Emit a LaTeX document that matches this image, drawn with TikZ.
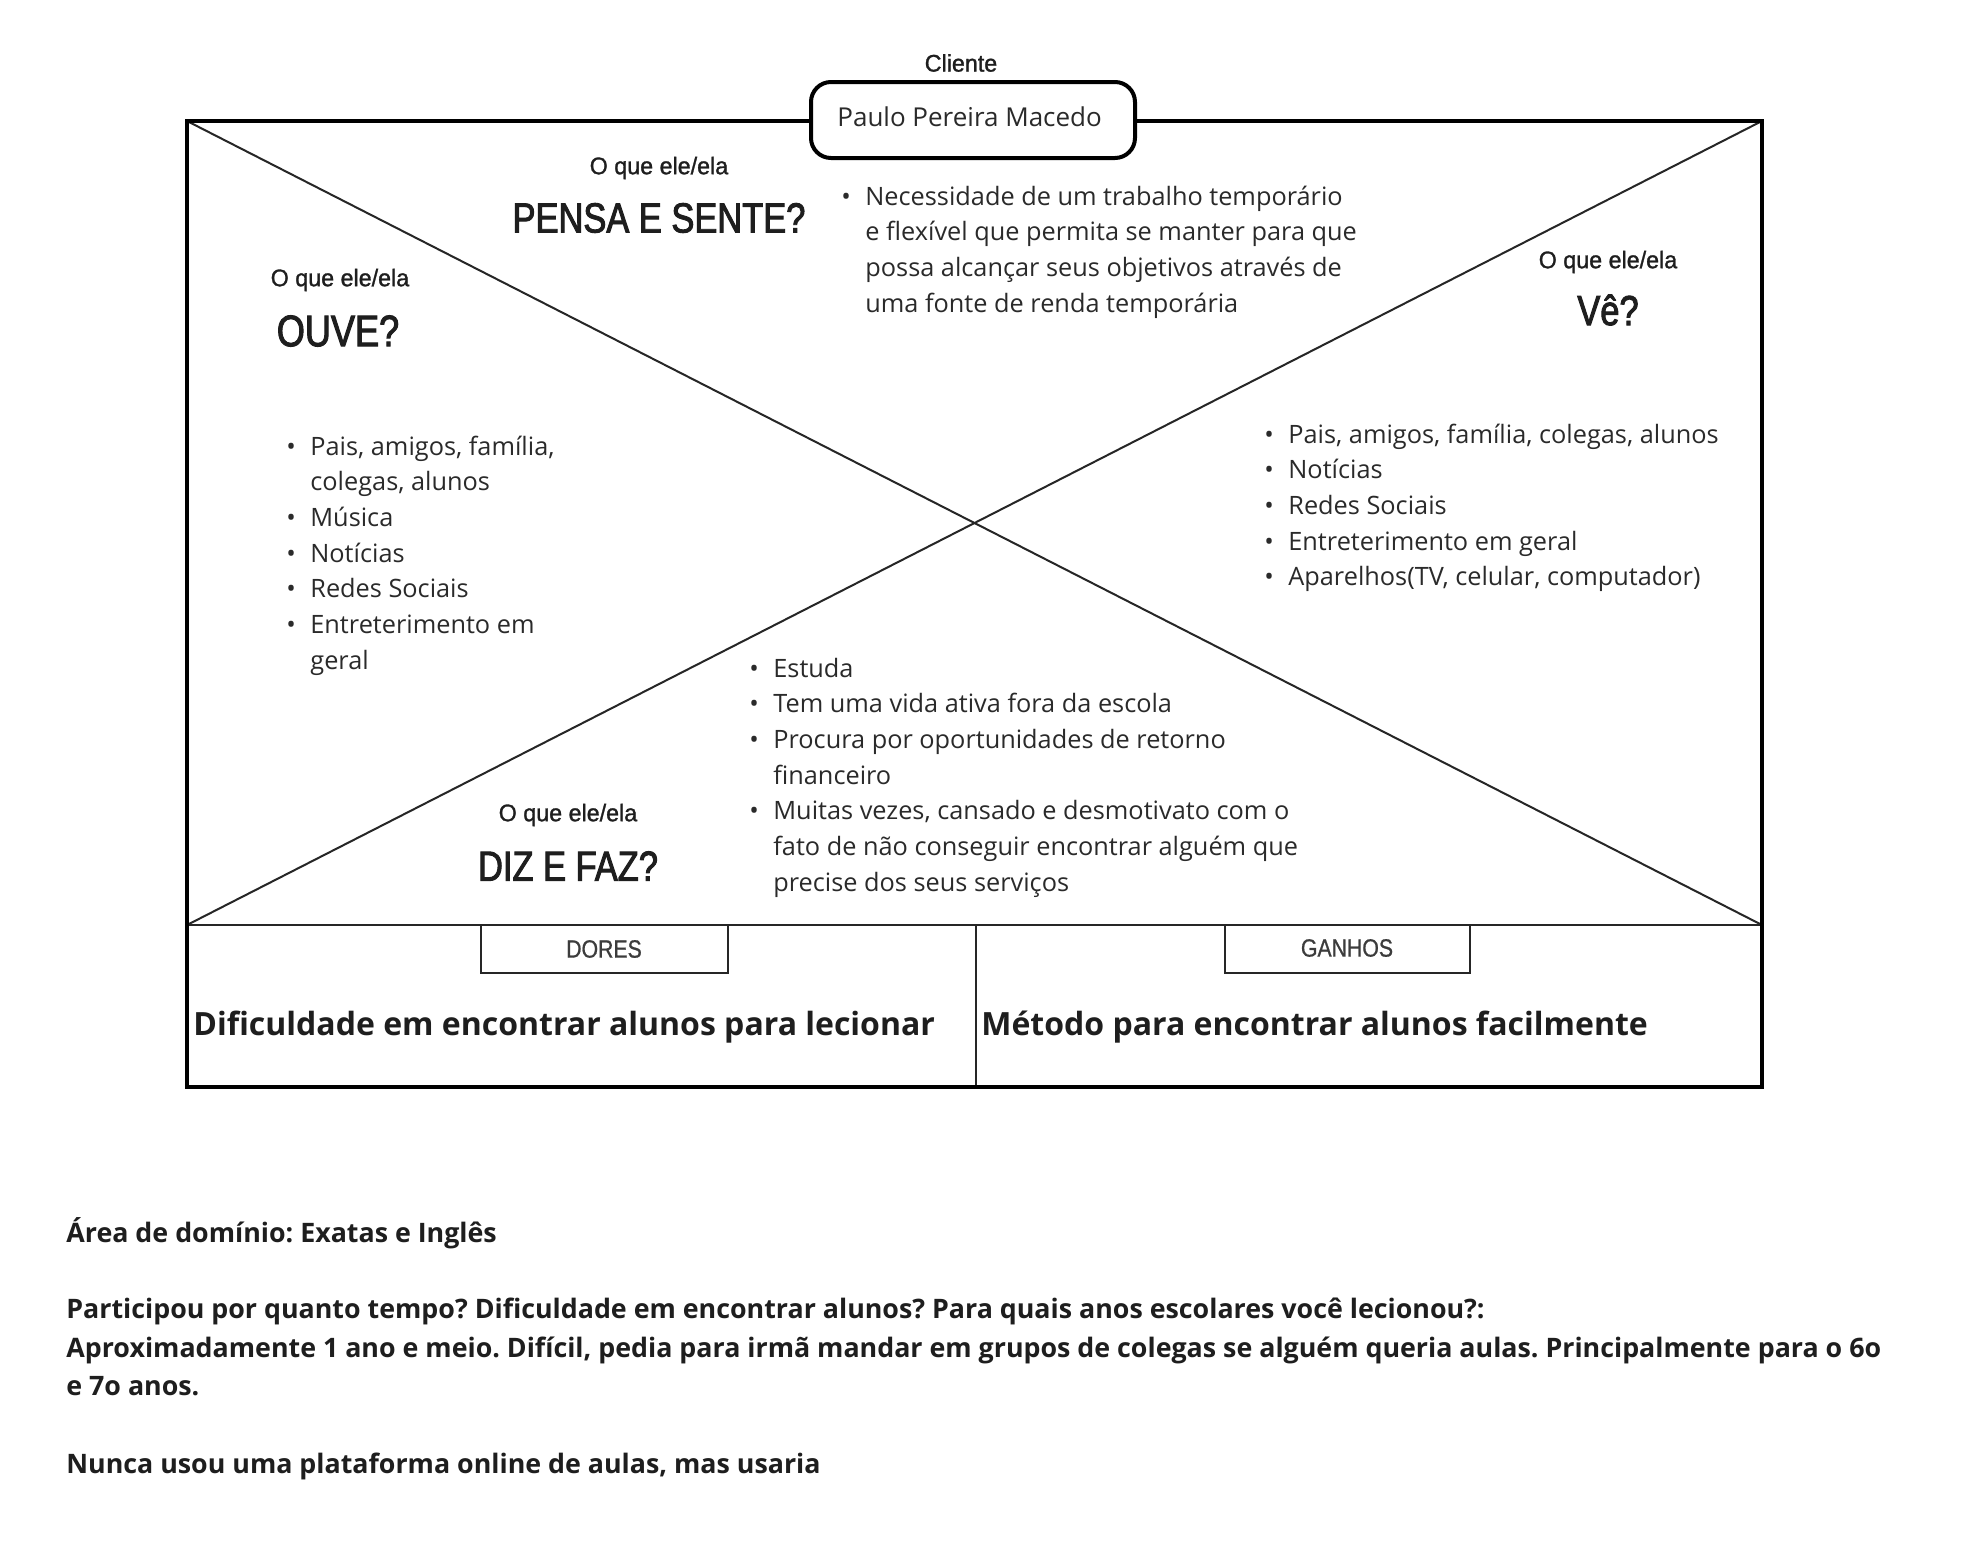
\documentclass[tikz,border=0pt]{standalone}
\usepackage{fontspec}
\setmainfont{Open Sans}
\newfontfamily\condf[FakeStretch=0.82,FakeBold=2.2]{Liberation Sans}
\newfontfamily\labf[FakeStretch=0.97,FakeBold=1.2]{Liberation Sans}
\newfontfamily\tagf[FakeStretch=0.85,FakeBold=0.8]{Liberation Sans}
\definecolor{ink}{HTML}{1E1E1E}
\definecolor{body}{HTML}{2A2A2A}
\definecolor{taggray}{HTML}{3C3C3C}
\newcommand{\bul}{\makebox[12pt][l]{•}}
\newcommand{\bodyfont}{\fontsize{12.65pt}{17.85pt}\selectfont}
\tikzset{
  frame/.style={line width=2pt, draw=black},
  diag/.style={line width=1pt, draw=black!85},
  thin/.style={line width=1pt, draw=black!85},
  smalllab/.style={font=\labf\fontsize{12pt}{14pt}\selectfont, text=ink, inner sep=0pt},
  biglab/.style={font=\condf\fontsize{21pt}{24pt}\selectfont, text=ink, inner sep=0pt},
  tagbox/.style={line width=1pt, draw=black!85},
  taglab/.style={font=\tagf\fontsize{12.5pt}{14pt}\selectfont, text=taggray, inner sep=0pt},
  list/.style={anchor=base west, inner sep=0pt, text=body, font=\bodyfont},
  bottomtxt/.style={anchor=base west, inner sep=0pt, text=ink, font=\bfseries\fontsize{16pt}{19pt}\selectfont},
  foot/.style={anchor=base west, inner sep=0pt, text=ink, font=\bfseries\fontsize{13.4pt}{19pt}\selectfont},
}
\begin{document}
\frenchspacing
\begin{tikzpicture}[x=0.5pt,y=-0.5pt]
\useasboundingbox[fill=white] (0,0) rectangle (1983,1543);

% corners
\coordinate (TL) at (187,121);
\coordinate (TR) at (1762,121);
\coordinate (ML) at (187,925);
\coordinate (MR) at (1762,925);
\coordinate (BL) at (187,1087);
\coordinate (BR) at (1762,1087);
\coordinate (MT) at (976,925);
\coordinate (MB) at (976,1087);

% diagonals
\draw[diag] (TL) -- (MR);
\draw[diag] (TR) -- (ML);
% middle line and divider
\draw[line width=1.2pt, draw=black!85] (ML) -- (MR);
\draw[thin] (MT) -- (MB);
% frame
\draw[frame] (TL) rectangle (BR);

% tag boxes
\draw[tagbox] (481,925) rectangle (728,973);
\draw[tagbox] (1225,925) rectangle (1470,973);
\node[taglab] (dores) at (604,949) {DORES};
\node[taglab] (ganhos) at (1347,948) {GANHOS};

% client box
\draw[frame, fill=white, rounded corners=10pt] (811,82) rectangle (1135,158);
\node[anchor=west, inner sep=0pt, text=body, font=\fontsize{13pt}{16pt}\selectfont] (paulo) at (837,117) {Paulo Pereira Macedo};
\node[smalllab] (cliente) at (961,63) {Cliente};

% headings
\node[smalllab] (pq) at (659,168) {O que ele/ela};
\node[biglab] (pensa) at (659,218) {PENSA E SENTE?};
\node[smalllab] (oq) at (340,280) {O que ele/ela};
\node[biglab, font=\condf\fontsize{22pt}{24pt}\selectfont] (ouve) at (338,331) {OUVE?};
\node[smalllab] (vq) at (1608,262) {O que ele/ela};
\node[biglab] (ve) at (1608,310) {Vê?};
\node[smalllab] (dq) at (568,815) {O que ele/ela};
\node[biglab] (diz) at (568,866) {DIZ E FAZ?};

% lists
\node[list] (lpensa) at (841,205) {\begin{tabular}[t]{@{}l@{}l@{}}
\bul & Necessidade de um trabalho temporário\\
 & e flexível que permita se manter para que\\
 & possa alcançar seus objetivos através de\\
 & uma fonte de renda temporária
\end{tabular}};

\node[list] (louve) at (286,455) {\begin{tabular}[t]{@{}l@{}l@{}}
\bul & Pais, amigos, família,\\
 & colegas, alunos\\
\bul & Música\\
\bul & Notícias\\
\bul & Redes Sociais\\
\bul & Entreterimento em\\
 & geral
\end{tabular}};

\node[list] (lve) at (1264,443) {\begin{tabular}[t]{@{}l@{}l@{}}
\bul & Pais, amigos, família, colegas, alunos\\
\bul & Notícias\\
\bul & Redes Sociais\\
\bul & Entreterimento em geral\\
\bul & Aparelhos(TV, celular, computador)
\end{tabular}};

\node[list] (ldiz) at (749,677) {\begin{tabular}[t]{@{}l@{}l@{}}
\bul & Estuda\\
\bul & Tem uma vida ativa fora da escola\\
\bul & Procura por oportunidades de retorno\\
 & financeiro\\
\bul & Muitas vezes, cansado e desmotivato com o\\
 & fato de não conseguir encontrar alguém que\\
 & precise dos seus serviços
\end{tabular}};

% bottom texts
\node[bottomtxt] (dor) at (193,1035) {Dificuldade em encontrar alunos para lecionar};
\node[bottomtxt] (gan) at (981,1035) {Método para encontrar alunos facilmente};

% footer
\node[foot] (f1) at (66,1242) {Área de domínio: Exatas e Inglês};
\node[foot] (f2) at (66,1318) {Participou por quanto tempo? Dificuldade em encontrar alunos? Para quais anos escolares você lecionou?:};
\node[foot] (f3) at (66,1357) {Aproximadamente 1 ano e meio. Difícil, pedia para irmã mandar em grupos de colegas se alguém queria aulas. Principalmente para o 6o};
\node[foot] (f4) at (66,1395) {e 7o anos.};
\node[foot] (f5) at (66,1473) {Nunca usou uma plataforma online de aulas, mas usaria};
\end{tikzpicture}
\end{document}
